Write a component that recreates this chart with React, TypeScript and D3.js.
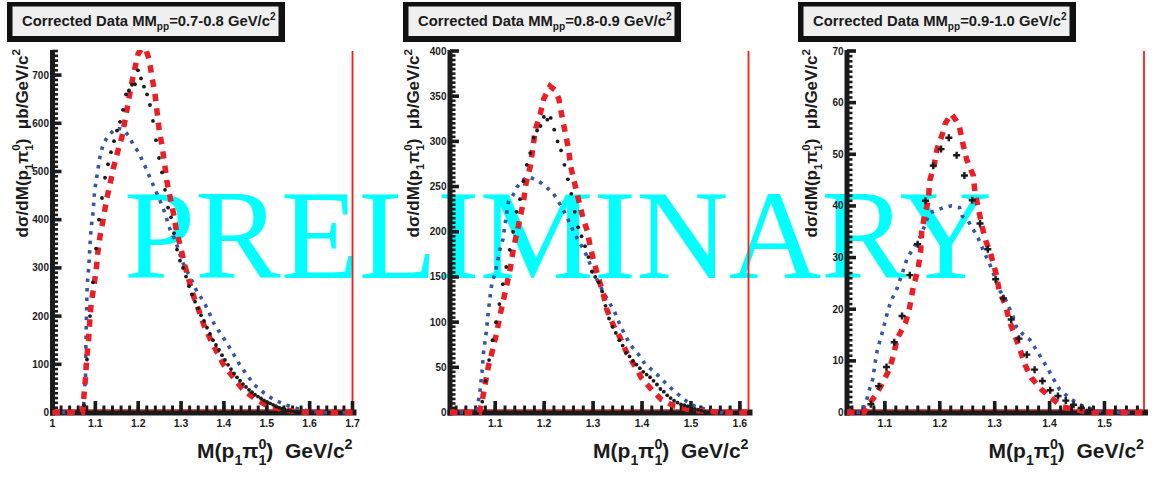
import React from "react";
import * as d3 from "d3";

const WIDTH = 1154;
const HEIGHT = 479;
const SANS = "'Liberation Sans', Arial, Helvetica, sans-serif";
const SERIF = "'Liberation Serif', 'Times New Roman', serif";

// MM_pp slices, one per pad
const mmSlices = ["0.7-0.8", "0.8-0.9", "0.9-1.0"];

// mass axis ranges (GeV/c^2) and cross-section axis maxima (µb/GeV/c^2)
const massDomains: [number, number][] = [
  [1.0, 1.7],
  [1.0076, 1.6176],
  [1.031, 1.572],
];
const yMaxima = [750, 400, 70];
const yMinorSteps = [10, 5, 1];

const xTickLabels = [
  ["1", "1.1", "1.2", "1.3", "1.4", "1.5", "1.6", "1.7"],
  ["1.1", "1.2", "1.3", "1.4", "1.5", "1.6"],
  ["1.1", "1.2", "1.3", "1.4", "1.5"],
];
const yTickLabels = [
  ["0", "100", "200", "300", "400", "500", "600", "700"],
  ["0", "50", "100", "150", "200", "250", "300", "350", "400"],
  ["0", "10", "20", "30", "40", "50", "60", "70"],
];

// corrected data: histogram bins (lower edge of first bin, bin width)
const dataBinLow = [1.07, 1.07, 1.0674];
const dataBinWidth = [0.007, 0.007, 0.0142];

const dataP1 = [
  15, 110, 200, 270, 340, 400, 445, 487, 515, 540, 563, 585, 603, 628, 660, 668,
  680, 681, 710, 693, 676, 660, 638, 605, 565, 528, 498, 462, 425, 405, 372, 338,
  315, 300, 282, 262, 245, 230, 216, 202, 190, 176, 163, 150, 140, 130, 119, 109,
  99, 90, 81, 73, 66, 59, 53, 47, 42, 37, 33, 29, 25, 22, 19, 16, 13, 10, 8, 6,
  4, 3, 2, 1,
];
const dataP2 = [
  12, 35, 58, 80, 100, 120, 142, 161, 180, 200, 222, 236, 256, 274, 287, 304,
  312, 317, 327, 324, 326, 313, 300, 290, 274, 258, 242, 222, 205, 195, 184, 172,
  156, 150, 144, 134, 118, 104, 95, 88, 80, 74, 66, 62, 57, 53, 49, 45, 42, 39,
  35, 31, 26, 23, 19, 16, 13, 11, 9, 8, 7, 5, 4, 3, 2, 1,
];
const dataP3 = [
  1.6, 5.1, 8.8, 13.6, 18.7, 26.6, 32.6, 41.0, 47.8, 51.0, 53.2, 49.8, 45.9, 41.1,
  36.6, 31.6, 25.8, 22.1, 18.0, 14.3, 11.2, 8.3, 6.1, 4.3, 3.2, 2.3, 1.5, 0.9, 0.5,
];

// simulated distributions: [mass, dσ/dM]
const redP1: [number, number][] = [
  [1.0, 0], [1.07, 0], [1.073, 30], [1.077, 72], [1.08, 114], [1.084, 150], [1.087, 189],
  [1.09, 224], [1.096, 259], [1.102, 296], [1.106, 334], [1.112, 372], [1.119, 404],
  [1.126, 441], [1.134, 473], [1.142, 507], [1.152, 541], [1.162, 572], [1.17, 610],
  [1.177, 645], [1.184, 680], [1.193, 717], [1.2, 745], [1.21, 756], [1.219, 750],
  [1.226, 731], [1.232, 696], [1.239, 662], [1.244, 624], [1.249, 586], [1.256, 551],
  [1.262, 513], [1.267, 479], [1.275, 444], [1.283, 410], [1.29, 372], [1.299, 344],
  [1.307, 310], [1.317, 279], [1.324, 255], [1.332, 234], [1.341, 213], [1.353, 182],
  [1.369, 151], [1.384, 125], [1.4, 98], [1.421, 74], [1.443, 49], [1.47, 30],
  [1.501, 14], [1.536, 6], [1.57, 2], [1.6, 0], [1.7, 0],
];
const blueP1: [number, number][] = [
  [1.0, 0], [1.072, 0], [1.074, 40], [1.077, 72], [1.078, 148], [1.079, 190], [1.08, 228],
  [1.081, 265], [1.085, 306], [1.087, 341], [1.09, 382], [1.095, 417], [1.098, 458],
  [1.104, 493], [1.11, 527], [1.118, 556], [1.128, 572], [1.139, 582], [1.147, 590],
  [1.16, 588], [1.166, 586], [1.178, 574], [1.19, 553], [1.201, 540], [1.211, 520],
  [1.22, 503], [1.228, 486], [1.24, 462], [1.252, 437], [1.261, 417], [1.267, 400],
  [1.275, 378], [1.287, 356], [1.295, 334], [1.303, 313], [1.314, 293], [1.326, 272],
  [1.337, 251], [1.353, 230], [1.365, 208], [1.376, 186], [1.391, 165], [1.407, 144],
  [1.423, 120], [1.437, 99], [1.453, 79], [1.47, 58], [1.493, 41], [1.516, 27],
  [1.54, 17], [1.563, 10], [1.586, 5], [1.61, 2], [1.63, 0], [1.7, 0],
];
const redP2: [number, number][] = [
  [1.0076, 0], [1.068, 0], [1.073, 12], [1.08, 33], [1.086, 51], [1.095, 70], [1.103, 88],
  [1.11, 108], [1.117, 125], [1.124, 142], [1.131, 160], [1.137, 181], [1.144, 198],
  [1.151, 216], [1.158, 234], [1.163, 254], [1.172, 273], [1.177, 293], [1.182, 313],
  [1.192, 330], [1.199, 347], [1.212, 361], [1.222, 357], [1.23, 347], [1.236, 329],
  [1.243, 310], [1.25, 291], [1.254, 273], [1.263, 252], [1.271, 234], [1.279, 216],
  [1.288, 201], [1.294, 184], [1.302, 166], [1.311, 149], [1.321, 131], [1.328, 114],
  [1.341, 97], [1.355, 83], [1.369, 66], [1.386, 51], [1.399, 38], [1.42, 25],
  [1.44, 14], [1.467, 7], [1.501, 2.5], [1.54, 1], [1.56, 0], [1.6176, 0],
];
const blueP2: [number, number][] = [
  [1.0076, 0], [1.062, 0], [1.066, 14], [1.069, 25], [1.073, 44], [1.076, 66], [1.082, 90],
  [1.085, 107], [1.09, 131], [1.093, 142], [1.1, 155], [1.11, 181], [1.116, 192],
  [1.12, 208], [1.127, 233], [1.137, 241], [1.144, 249], [1.154, 256], [1.166, 261],
  [1.182, 258], [1.199, 252], [1.218, 243], [1.233, 230], [1.246, 217], [1.253, 208],
  [1.267, 193], [1.28, 181], [1.291, 169], [1.297, 158], [1.308, 147], [1.321, 133],
  [1.335, 120], [1.345, 110], [1.355, 97], [1.365, 86], [1.376, 75], [1.393, 64],
  [1.407, 53], [1.423, 46], [1.44, 37], [1.457, 28], [1.474, 20], [1.491, 12.5],
  [1.508, 7], [1.535, 3], [1.56, 0], [1.6176, 0],
];
const redP3: [number, number][] = [
  [1.031, 0], [1.062, 0], [1.067, 1.0], [1.082, 3.2], [1.094, 5.4], [1.108, 8.3],
  [1.116, 11.2], [1.122, 14.2], [1.138, 17.5], [1.145, 20.3], [1.152, 24.5], [1.16, 27.5],
  [1.165, 31], [1.167, 35], [1.172, 38], [1.179, 41], [1.182, 45], [1.19, 48], [1.195, 51],
  [1.205, 54], [1.21, 56], [1.221, 57.8], [1.23, 56.5], [1.236, 55.2], [1.242, 52.1],
  [1.249, 49.0], [1.261, 45.9], [1.264, 42.7], [1.27, 39.7], [1.276, 36.4], [1.284, 33.2],
  [1.293, 30.6], [1.302, 27.1], [1.308, 23.8], [1.32, 20.6], [1.327, 17.7], [1.336, 15.1],
  [1.344, 12.9], [1.355, 9.3], [1.367, 6.7], [1.385, 4.5], [1.403, 2.8], [1.424, 1.1],
  [1.45, 0.5], [1.47, 0], [1.572, 0],
];
const blueP3: [number, number][] = [
  [1.031, 0], [1.058, 0], [1.062, 1], [1.067, 2.5], [1.072, 4.5], [1.078, 6.5],
  [1.082, 9.5], [1.086, 12], [1.094, 15], [1.102, 18.3], [1.108, 20.6], [1.114, 22.2],
  [1.122, 24], [1.133, 27.4], [1.14, 29.7], [1.152, 31.9], [1.167, 34.5], [1.175, 37],
  [1.182, 38.7], [1.195, 39.2], [1.207, 39.7], [1.221, 40.0], [1.236, 39.7], [1.241, 38],
  [1.252, 37.1], [1.258, 35.8], [1.267, 34.5], [1.279, 31.5], [1.294, 28], [1.303, 25.4],
  [1.31, 23.5], [1.32, 21.8], [1.333, 18.7], [1.339, 16.7], [1.35, 15.3], [1.364, 14.1],
  [1.379, 11.6], [1.394, 9.0], [1.406, 6.7], [1.418, 4.5], [1.436, 2.8], [1.455, 1.5],
  [1.48, 0.5], [1.5, 0], [1.572, 0],
];

const dataSets = [dataP1, dataP2, dataP3];
const redSets = [redP1, redP2, redP3];
const blueSets = [blueP1, blueP2, blueP3];

// pad geometry
const pads = [
  { left: 52.5, right: 352.5, boxX: 7, yTitleX: 27.5 },
  { left: 450, right: 748.5, boxX: 403, yTitleX: 419 },
  { left: 847, right: 1144, boxX: 798, yTitleX: 817 },
];
const PLOT_TOP = 51;
const PLOT_BOTTOM = 412.5;

const RED = "#ea1f26";
const BLUE = "#3456a8";
const INK = "#1b1b1b";

function YTitle({ x, y }: { x: number; y: number }) {
  const fs = 17;
  const s = fs * 0.68;
  return (
    <text
      transform={`translate(${x},${y}) rotate(-90)`}
      textAnchor="end"
      fontFamily={SANS}
      fontWeight="bold"
      fontSize={fs}
      fill={INK}
      style={{ whiteSpace: "pre" }}
    >
      <tspan>dσ/dM(p</tspan>
      <tspan dy={fs * 0.3} fontSize={s}>1</tspan>
      <tspan dy={-fs * 0.3}>π</tspan>
      <tspan dy={-fs * 0.42} fontSize={s}>0</tspan>
      <tspan dx={-s * 0.556} dy={fs * 0.72} fontSize={s}>1</tspan>
      <tspan dy={-fs * 0.3}>)  μb/GeV/c</tspan>
      <tspan dy={-fs * 0.42} fontSize={s}>2</tspan>
    </text>
  );
}

function XTitle({ x, y }: { x: number; y: number }) {
  const fs = 21;
  const s = fs * 0.68;
  return (
    <text
      x={x}
      y={y}
      textAnchor="end"
      fontFamily={SANS}
      fontWeight="bold"
      fontSize={fs}
      fill={INK}
      style={{ whiteSpace: "pre" }}
    >
      <tspan>M(p</tspan>
      <tspan dy={fs * 0.35} fontSize={s}>1</tspan>
      <tspan dy={-fs * 0.35}>π</tspan>
      <tspan dy={-fs * 0.42} fontSize={s}>0</tspan>
      <tspan dx={-s * 0.556} dy={fs * 0.77} fontSize={s}>1</tspan>
      <tspan dy={-fs * 0.35}>)  GeV/c</tspan>
      <tspan dy={-fs * 0.42} fontSize={s}>2</tspan>
    </text>
  );
}

function TitleBox({ x, slice }: { x: number; slice: string }) {
  const fs = 14.8;
  const s = fs * 0.68;
  return (
    <g>
      <rect x={x} y={2} width={278} height={40} fill="#111" />
      <rect x={x + 5.5} y={6.5} width={266} height={29.5} fill="#f0f0f0" />
      <text
        x={x + 15}
        y={26}
        fontFamily={SANS}
        fontWeight="bold"
        fontSize={fs}
        fill={INK}
        style={{ whiteSpace: "pre" }}
      >
        <tspan>Corrected Data MM</tspan>
        <tspan dy={fs * 0.3} fontSize={s}>pp</tspan>
        <tspan dy={-fs * 0.3}>{`=${slice} GeV/c`}</tspan>
        <tspan dy={-fs * 0.4} fontSize={s}>2</tspan>
      </text>
    </g>
  );
}

function Pad({ i }: { i: number }) {
  const pad = pads[i];
  const [m0, m1] = massDomains[i];
  const x = d3.scaleLinear().domain([m0, m1]).range([pad.left, pad.right]);
  const y = d3.scaleLinear().domain([0, yMaxima[i]]).range([PLOT_BOTTOM, PLOT_TOP]);
  const line = d3
    .line<[number, number]>()
    .x((d) => x(d[0]))
    .y((d) => y(d[1]));

  const clipId = `pad-clip-${i}`;
  const yAxisX = pad.left;
  const xAxisY = PLOT_BOTTOM;

  const yMajors = yTickLabels[i].map((t) => +t);
  const yMinors = d3.range(0, yMaxima[i] + 1e-9, yMinorSteps[i]);
  const xMajors = xTickLabels[i].map((t) => +t);
  const xMinors = d3
    .range(Math.ceil(m0 / 0.02 - 1e-6) * 0.02, m1 + 1e-9, 0.02)
    .map((v) => +v.toFixed(3));

  const bins = dataSets[i].map((v, k) => ({
    m: dataBinLow[i] + (k + 0.5) * dataBinWidth[i],
    v,
  }));

  return (
    <g>
      <defs>
        <clipPath id={clipId}>
          <rect
            x={pad.left - 2}
            y={PLOT_TOP - 1}
            width={pad.right - pad.left + 4}
            height={PLOT_BOTTOM - PLOT_TOP + 6}
          />
        </clipPath>
      </defs>

      {/* right edge of the frame */}
      <line x1={x(m1)} x2={x(m1)} y1={PLOT_TOP} y2={xAxisY} stroke="#ff1a1a" strokeWidth={1.8} />

      {/* y axis */}
      <line x1={yAxisX} x2={yAxisX} y1={PLOT_TOP - 1} y2={xAxisY + 3} stroke={INK} strokeWidth={5} />
      {yMinors.map((v) => (
        <line key={`ym${v}`} x1={yAxisX} x2={yAxisX + 5.5} y1={y(v)} y2={y(v)} stroke={INK} strokeWidth={2.6} />
      ))}
      {yMajors.map((v) => (
        <line key={`yM${v}`} x1={yAxisX} x2={yAxisX + 9} y1={y(v)} y2={y(v)} stroke={INK} strokeWidth={3.6} />
      ))}
      {yTickLabels[i].map((t) => (
        <text
          key={`yl${t}`}
          x={yAxisX - 3.5}
          y={y(+t)}
          dy="0.35em"
          textAnchor="end"
          fontFamily={SANS}
          fontWeight="bold"
          fontSize={10}
          fill={INK}
        >
          {t}
        </text>
      ))}

      {/* x axis */}
      <line x1={yAxisX - 2.5} x2={x(m1) + 4} y1={xAxisY} y2={xAxisY} stroke={INK} strokeWidth={6} />
      <line x1={yAxisX} x2={x(m1)} y1={xAxisY - 2.5} y2={xAxisY - 2.5} stroke="#ff3030" strokeWidth={1} />
      {xMinors.map((v) => (
        <line key={`xm${v}`} x1={x(v)} x2={x(v)} y1={xAxisY} y2={xAxisY - 7} stroke={INK} strokeWidth={3} />
      ))}
      {xMajors.map((v) => (
        <line key={`xM${v}`} x1={x(v)} x2={x(v)} y1={xAxisY} y2={xAxisY - 11.5} stroke={INK} strokeWidth={3.6} />
      ))}
      {xTickLabels[i].map((t) => (
        <text
          key={`xl${t}`}
          x={x(+t)}
          y={426.5}
          textAnchor="middle"
          fontFamily={SANS}
          fontWeight="bold"
          fontSize={10.5}
          fill={INK}
        >
          {t}
        </text>
      ))}

      <g clipPath={`url(#${clipId})`}>
        <path d={line(blueSets[i]) ?? ""} fill="none" stroke={BLUE} strokeWidth={3.6} strokeDasharray="3.5 6" />
        <path d={line(redSets[i]) ?? ""} fill="none" stroke={RED} strokeWidth={5.5} strokeDasharray="7.5 7" />
        {i < 2
          ? bins.map((b) => (
              <circle key={`d${b.m}`} cx={x(b.m)} cy={y(b.v)} r={1.9} fill={INK} />
            ))
          : bins.map((b) => (
              <g key={`d${b.m}`} stroke={INK} strokeWidth={2.4}>
                <line
                  x1={x(b.m - dataBinWidth[i] * 0.45)}
                  x2={x(b.m + dataBinWidth[i] * 0.45)}
                  y1={y(b.v)}
                  y2={y(b.v)}
                />
                <line x1={x(b.m)} x2={x(b.m)} y1={y(b.v) - 3.5} y2={y(b.v) + 3.5} />
              </g>
            ))}
      </g>

      <YTitle x={pad.yTitleX} y={49} />
      <XTitle x={x(m1)} y={458} />
      <TitleBox x={pad.boxX} slice={mmSlices[i]} />
    </g>
  );
}

export default function App() {
  return (
    <svg
      width={WIDTH}
      height={HEIGHT}
      viewBox={`0 0 ${WIDTH} ${HEIGHT}`}
      style={{ position: "absolute", left: 0, top: 0, display: "block", background: "#fff" }}
    >
      <rect width={WIDTH} height={HEIGHT} fill="#fff" />
      <text
        x={124}
        y={278}
        fontFamily={SERIF}
        fontSize={127}
        fill="#00ffff"
        textLength={868}
        lengthAdjust="spacingAndGlyphs"
      >
        PRELIMINARY
      </text>
      {[0, 1, 2].map((i) => (
        <Pad key={i} i={i} />
      ))}
    </svg>
  );
}
